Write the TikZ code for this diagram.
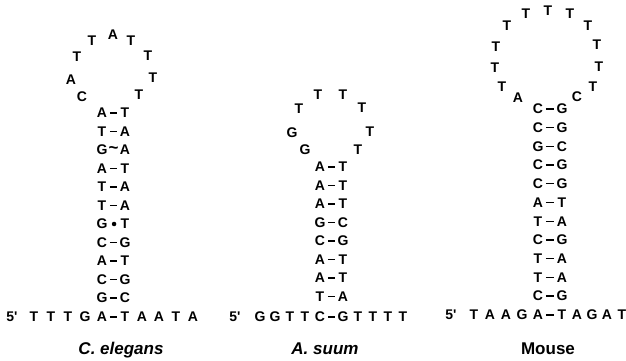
\documentclass[tikz,border=0pt]{standalone}
\usepackage{fontspec}
\setmainfont{Liberation Sans}
\begin{document}
\begin{tikzpicture}[x=1pt,y=-1pt,
  nt/.style={inner sep=0pt, font=\bfseries\fontsize{14}{14}\selectfont},
  bond/.style={line width=1.3pt, shorten <=7.8pt, shorten >=7.8pt},
  wobble/.style={circle, fill=black, inner sep=1.6pt},
  species/.style={anchor=base, font=\bfseries\fontsize{17}{17}\selectfont}]
\useasboundingbox[fill=white] (0,0) rectangle (626,360);

% ---------------- C. elegans hairpin ----------------
\foreach \l/\r [count=\i] in {A/T,T/A,G/A,A/T,T/A,T/A,G/T,C/G,A/T,C/G,G/C} {
  \node[nt] (ce-l\i) at (102,{113+18.5*(\i-1)}) {\l};
  \node[nt] (ce-r\i) at (125,{113+18.5*(\i-1)}) {\r};
}
\foreach \i in {1,2,4,5,6,8,9,10,11} \draw[bond] (ce-l\i.center) -- (ce-r\i.center);
\path (ce-l3) -- node[nt, font=\bfseries\fontsize{17}{17}\selectfont] {\textasciitilde} (ce-r3);
\path (ce-l7) -- node[wobble] {} (ce-r7);
% loop
\foreach \t/\x/\y [count=\i] in {C/82/97, A/71/80, T/77/57, T/92/41, A/113/35,
                                 T/131/41, T/148/56, T/153/78, T/139/95}
  \node[nt] (ce-p\i) at (\x,\y) {\t};
% tails
\node[nt] (ce-5p) at (12,317) {5\textquotesingle};
\foreach \t [count=\i] in {T,T,T,G,A}
  \node[nt] (ce-a\i) at ({34+17*(\i-1)},317) {\t};
\foreach \t [count=\i] in {T,A,A,T,A}
  \node[nt] (ce-b\i) at ({125+17*(\i-1)},317) {\t};
\draw[bond] (ce-a5.center) -- (ce-b1.center);
\node[species] (ce-name) at (121,354) {\itshape C.\ elegans};

% ---------------- A. suum hairpin ----------------
\foreach \l/\r [count=\i] in {A/T,A/T,A/T,G/C,C/G,A/T,A/T,T/A} {
  \node[nt] (as-l\i) at (320,{167+18.5*(\i-1)}) {\l};
  \node[nt] (as-r\i) at (343,{167+18.5*(\i-1)}) {\r};
  \draw[bond] (as-l\i.center) -- (as-r\i.center);
}
\foreach \t/\x/\y [count=\i] in {G/305/150, G/292/133, T/299/109, T/318/95,
                                 T/343/95, T/362/108, T/370/132, T/358/150}
  \node[nt] (as-p\i) at (\x,\y) {\t};
\node[nt] (as-5p) at (235,317) {5\textquotesingle};
\foreach \t [count=\i] in {G,G,T,T,C}
  \node[nt] (as-a\i) at ({260+15*(\i-1)},317) {\t};
\foreach \t [count=\i] in {G,T,T,T,T}
  \node[nt] (as-b\i) at ({343+15*(\i-1)},317) {\t};
\draw[bond] (as-a5.center) -- (as-b1.center);
\node[species] (as-name) at (325,354) {\itshape A.\ suum};

% ---------------- Mouse hairpin ----------------
\foreach \l/\r [count=\i] in {C/G,C/G,G/C,C/G,C/G,A/T,T/A,C/G,T/A,T/A,C/G} {
  \node[nt] (mm-l\i) at (538,{109+18.7*(\i-1)}) {\l};
  \node[nt] (mm-r\i) at (562,{109+18.7*(\i-1)}) {\r};
  \draw[bond] (mm-l\i.center) -- (mm-r\i.center);
}
\foreach \t/\x/\y [count=\i] in {A/518/98, T/502/87, T/495/68, T/496/47, T/507/26,
                                 T/526/14, T/548/11, T/570/14, T/588/26, T/597/45,
                                 T/599/67, T/593/87, C/577/97}
  \node[nt] (mm-p\i) at (\x,\y) {\t};
\node[nt] (mm-5p) at (451,315) {5\textquotesingle};
\foreach \t [count=\i] in {T,A,A,G,A}
  \node[nt] (mm-a\i) at ({474+16*(\i-1)},315) {\t};
\foreach \t [count=\i] in {T,A,G,A,T}
  \node[nt] (mm-b\i) at ({562+15*(\i-1)},315) {\t};
\draw[bond] (mm-a5.center) -- (mm-b1.center);
\node[species] (mm-name) at (548,354) {Mouse};
\end{tikzpicture}
\end{document}
